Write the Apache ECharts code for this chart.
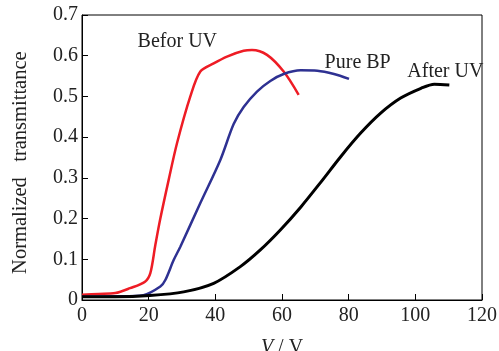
<!DOCTYPE html>
<html><head><meta charset="utf-8">
<script src="https://cdn.jsdelivr.net/npm/echarts@6/dist/echarts.min.js"></script>
<style>html,body{margin:0;padding:0;background:#fff}#c{width:499px;height:351px}</style>
</head><body><div id="c"></div>
<script>
var xTicks = [0, 20, 40, 60, 80, 100, 120];
var yTicks = [0, 0.1, 0.2, 0.3, 0.4, 0.5, 0.6, 0.7];
var beforX = [0, 5, 10, 14.4, 18.9, 20.5, 22, 23.5, 26, 28.5, 32.5, 35.5, 39.5, 43.5, 48.5, 51, 55.5, 60.5, 65];
var beforY = [0.013, 0.015, 0.017, 0.029, 0.045, 0.066, 0.135, 0.2, 0.295, 0.385, 0.5, 0.561, 0.581, 0.598, 0.612, 0.614, 0.602, 0.561, 0.504];
var pureX = [0, 10, 18.4, 23.5, 25, 27.5, 29.5, 35.5, 41.5, 45.5, 48.5, 52.5, 56.5, 60.5, 65.6, 70.6, 75.6, 80.1];
var pureY = [0.008, 0.009, 0.012, 0.033, 0.049, 0.098, 0.131, 0.238, 0.344, 0.432, 0.474, 0.512, 0.538, 0.555, 0.564, 0.563, 0.555, 0.543];
var afterX = [0, 10, 20.4, 30.5, 39.5, 47.5, 53.5, 59.5, 65.6, 71.6, 77.6, 83.6, 89.6, 95.6, 101.7, 105.7, 110.2];
var afterY = [0.008, 0.008, 0.011, 0.02, 0.041, 0.082, 0.123, 0.172, 0.228, 0.289, 0.352, 0.41, 0.459, 0.496, 0.52, 0.53, 0.528];
var labels = [
  {text: 'Befor UV', x: 28.6, y: 0.634},
  {text: 'Pure BP', x: 82.7, y: 0.582},
  {text: 'After UV', x: 109, y: 0.56}
];
function pairs(xs, ys){ return xs.map(function(v,i){ return [v, ys[i]]; }); }
var font = 'Liberation Serif';
var chart = echarts.init(document.getElementById('c'));
chart.setOption({
  backgroundColor: '#fff',
  animation: false,
  grid: {left: 82, right: 17, top: 15, bottom: 51, containLabel: false, outerBoundsMode: 'none', show: true, borderColor: '#000', borderWidth: 1},
  xAxis: {
    type: 'value', min: 0, max: 120, interval: 20,
    name: '{i|V} / V', nameLocation: 'middle', nameGap: 38,
    nameTextStyle: {fontFamily: font, fontSize: 20, color: '#222', rich: {i: {fontFamily: font, fontSize: 20, fontStyle: 'italic', color: '#222'}}},
    axisLine: {lineStyle: {color: '#000', width: 1}},
    axisTick: {inside: true, length: 6, lineStyle: {color: '#000'}},
    axisLabel: {fontFamily: font, fontSize: 20, color: '#222', margin: 6, formatter: function(v){ return xTicks.indexOf(v) >= 0 ? String(v) : ''; }},
    splitLine: {show: false}
  },
  yAxis: {
    type: 'value', min: 0, max: 0.7, interval: 0.1,
    name: 'Normalized   transmittance  ', nameLocation: 'middle', nameGap: 51,
    nameTextStyle: {fontFamily: font, fontSize: 20.5, color: '#222'},
    axisLine: {lineStyle: {color: '#000', width: 1}},
    axisTick: {inside: true, length: 6, lineStyle: {color: '#000'}},
    axisLabel: {fontFamily: font, fontSize: 20, color: '#222', margin: 4, formatter: function(v){
      var r = Math.round(v * 10) / 10; return r === 0 ? '0' : r.toFixed(1); }},
    splitLine: {show: false}
  },
  series: [
    {type: 'line', data: pairs(beforX, beforY), smooth: 0.3, showSymbol: false, lineStyle: {color: '#ee1c25', width: 2.5}},
    {type: 'line', data: pairs(pureX, pureY), smooth: 0.3, showSymbol: false, lineStyle: {color: '#2e3192', width: 2.5}},
    {type: 'line', data: pairs(afterX, afterY), smooth: 0.3, showSymbol: false, lineStyle: {color: '#000', width: 3}}
  ]
});
var g = labels.map(function(l){
  var p = chart.convertToPixel({gridIndex: 0}, [l.x, l.y]);
  return {type: 'text', x: p[0], y: p[1], style: {text: l.text, fontFamily: font, fontSize: 20, fill: '#222', align: 'center', verticalAlign: 'middle'}};
});
chart.setOption({graphic: g});
</script></body></html>
